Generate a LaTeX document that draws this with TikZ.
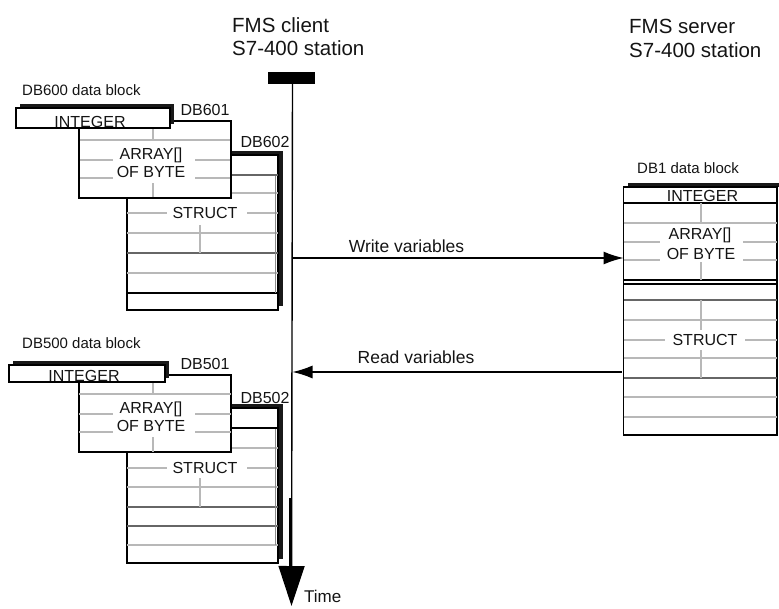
\documentclass[tikz,border=0pt]{standalone}
\usepackage{fontspec}
\setmainfont{Liberation Sans}
\usetikzlibrary{arrows.meta}
\tikzset{
  box/.style={draw=black, line width=1.5pt, fill=white, inner sep=0pt, outer sep=0pt, anchor=north west},
  shadowfill/.style={fill=black!90},
  gline/.style={draw=black!28, line width=1.6pt},
  dline/.style={draw=black!60, line width=1.4pt},
  bline/.style={draw=black, line width=1.5pt},
  txt/.style={inner sep=0pt, anchor=base, text=black!92, font=\fontsize{16}{18}\selectfont},
  lbl/.style={inner sep=0pt, anchor=base west, text=black!92, font=\fontsize{15}{17}\selectfont},
  dbl/.style={inner sep=0pt, anchor=base, text=black!92, font=\fontsize{16}{18}\selectfont},
  head/.style={inner sep=0pt, anchor=base west, text=black!92, font=\fontsize{20.5}{23}\selectfont},
  msg/.style={inner sep=0pt, anchor=base, text=black!92, font=\fontsize{17.5}{20}\selectfont},
  arr/.style={draw=black, line width=1.3pt, -{Latex[length=20pt,width=13pt]}},
}
\begin{document}
\begin{tikzpicture}[x=1pt,y=-1pt]
\useasboundingbox (0,0) rectangle (779,608);

% ---------- headings ----------
\node[head] (client1) at (232,32) {FMS client};
\node[head] (client2) at (232,55) {S7-400 station};
\node[head] (server1) at (629,33) {FMS server};
\node[head] (server2) at (629,57) {S7-400 station};

% ---------- timeline ----------
\node[fill=black, minimum width=47pt, minimum height=12pt, inner sep=0pt, outer sep=0pt] (bar) at (291.5,78) {};
\coordinate (tip) at (291.5,606);
\draw[line width=1.4pt, -{Triangle[length=40pt,width=26pt]}] (bar.south -| 292.5,0) -- (tip);
\draw[line width=3pt] (290.3,498) -- (290.3,568);
\node[inner sep=0pt, anchor=base west, text=black!92, font=\fontsize{17}{19}\selectfont] (time) at (304,602) {Time};

% ================= DB600 group =================
\node[lbl] (db600lbl) at (22,95.4) {DB600 data block};
% DB602
\fill[shadowfill] (131,151) rectangle (282.8,306);
\node[box, minimum width=151pt, minimum height=155pt] (db602) at (127,155) {};
\draw[dline] (127,175) -- (278,175);
\draw[gline] (127,193) -- (278,193);
\draw[gline] (127,213) -- (167,213) (247,213) -- (278,213);
\draw[gline] (127,233) -- (278,233);
\draw[dline] (127,253) -- (278,253);
\draw[gline] (127,273) -- (278,273);
\draw[bline] (127,293) -- (278,293);
\draw[gline] (200,225) -- (200,253);
\draw[draw=black!45, line width=1pt] (275.3,176) -- (275.3,293);
\node[txt] (struct6) at (205,218.7) {STRUCT};
\node[dbl] (db602lbl) at (265,147.7) {DB602};
% DB601
\node[box, minimum width=152pt, minimum height=77pt] (db601) at (79,121) {};
\draw[gline] (79,140) -- (231,140);
\draw[gline] (79,160) -- (113,160) (195,160) -- (231,160);
\draw[gline] (79,178) -- (113,178) (195,178) -- (231,178);
\draw[gline] (153,128) -- (153,140) (153,183) -- (153,198);
\draw[black, line width=1.5pt] (79,121) -- (231,121) -- (231,198) -- (79,198) -- cycle;
\node[txt] (arr6) at (151,159.7) {ARRAY[]};
\node[txt] (byte6) at (151,177.2) {OF BYTE};
\node[dbl] (db601lbl) at (205,115.7) {DB601};
% INTEGER
\fill[shadowfill] (19.5,104) rectangle (173.8,124);
\node[box, minimum width=154pt, minimum height=20pt] (int6) at (16,108) {};
\node[txt] (int6t) at (90,127.5) {INTEGER};

% ================= DB500 group =================
\node[lbl] (db500lbl) at (22,348.4) {DB500 data block};
% DB502
\fill[shadowfill] (131,404) rectangle (282.8,559);
\node[box, minimum width=151pt, minimum height=155pt] (db502) at (127,408) {};
\draw[bline] (127,428) -- (278,428);
\draw[gline] (127,448) -- (278,448);
\draw[gline] (127,468) -- (167,468) (247,468) -- (278,468);
\draw[gline] (127,487) -- (278,487);
\draw[dline] (127,507) -- (278,507);
\draw[draw=black!60, line width=2pt] (127,526) -- (278,526);
\draw[gline] (127,545) -- (278,545);
\draw[gline] (200,478) -- (200,507);
\draw[draw=black!45, line width=1pt] (275.3,429) -- (275.3,545);
\node[txt] (struct5) at (205,473.7) {STRUCT};
\node[dbl] (db502lbl) at (265,403.2) {DB502};
% DB501
\node[box, minimum width=152pt, minimum height=77pt] (db501) at (79,375) {};
\draw[gline] (79,394) -- (231,394);
\draw[gline] (79,414) -- (113,414) (195,414) -- (231,414);
\draw[gline] (79,432) -- (113,432) (195,432) -- (231,432);
\draw[gline] (153,382) -- (153,394) (153,437) -- (153,452);
\node[txt] (arr5) at (151,413.7) {ARRAY[]};
\node[txt] (byte5) at (151,431) {OF BYTE};
\node[dbl] (db501lbl) at (205,369.7) {DB501};
% INTEGER
\fill[shadowfill] (13,361) rectangle (168.8,378);
\node[box, minimum width=156pt, minimum height=17pt] (int5) at (9,365) {};
\node[txt] (int5t) at (84,381) {INTEGER};

% ================= DB1 (server) =================
\node[lbl] (db1lbl) at (637,173) {DB1 data block};
\fill[shadowfill] (627.5,183) rectangle (779,187);
\node[box, minimum width=153.5pt, minimum height=248pt] (db1) at (623.5,187) {};
\draw[bline] (623.5,203) -- (777,203);
\draw[gline] (623.5,223) -- (777,223);
\draw[gline] (623.5,242) -- (660,242) (743,242) -- (777,242);
\draw[gline] (623.5,260) -- (660,260) (743,260) -- (777,260);
\draw[bline] (623.5,280) -- (777,280);
\draw[draw=black, line width=1.1pt] (623.5,284) -- (777,284);
\draw[dline] (623.5,300) -- (777,300);
\draw[gline] (623.5,320) -- (777,320);
\draw[gline] (623.5,340) -- (665,340) (745,340) -- (777,340);
\draw[gline] (623.5,358) -- (777,358);
\draw[dline] (623.5,378) -- (777,378);
\draw[gline] (623.5,397) -- (777,397);
\draw[gline] (623.5,417) -- (777,417);
\draw[gline] (701,203) -- (701,223) (701,262) -- (701,280) (701,300) -- (701,330) (701,350) -- (701,378);
\node[txt] (int1t) at (702.5,201.7) {INTEGER};
\node[txt] (arr1) at (700,239.7) {ARRAY[]};
\node[txt] (byte1) at (701,259) {OF BYTE};
\node[txt] (struct1) at (705,345) {STRUCT};

% ================= messages =================
\coordinate (w) at (292.5,258);
\coordinate (r) at (292.5,372);
\draw[arr] (w) -- (w -| db1.west);
\draw[arr] ([xshift=-2pt]r -| db1.west) -- (r);
\node[msg] (wlbl) at (406.5,252) {Write variables};
\node[msg] (rlbl) at (416,363) {Read variables};
\end{tikzpicture}
\end{document}
